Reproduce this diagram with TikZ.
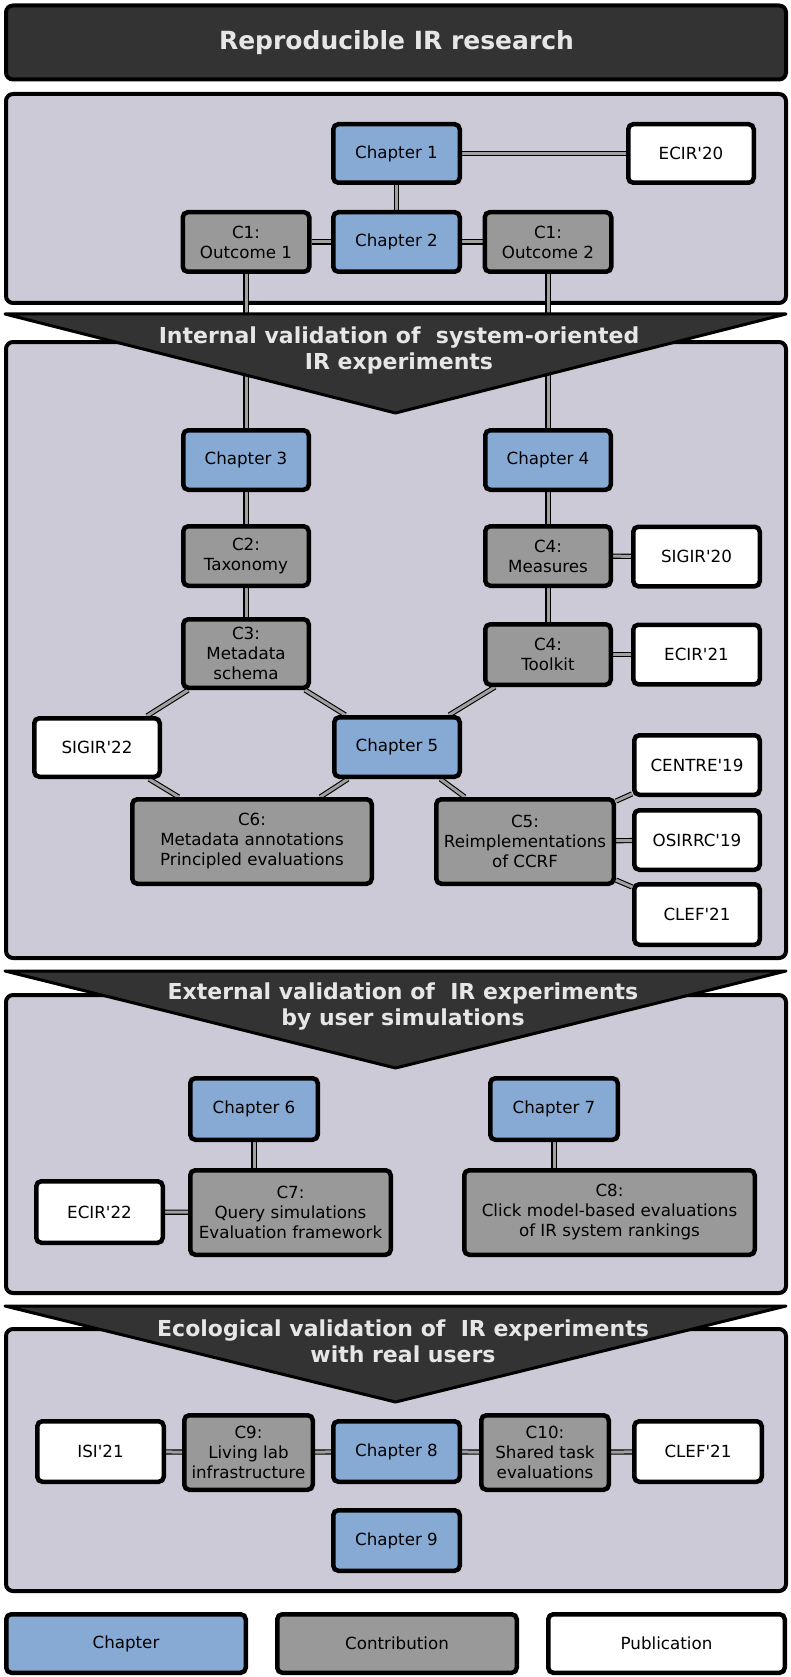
\documentclass[tikz,border=0pt]{standalone}
\usepackage{fontspec}
\setmainfont{DejaVu Sans}[Ligatures=TeXOff]
\usetikzlibrary{calc}

\definecolor{panelfill}{HTML}{CCCAD6}
\definecolor{chapfill}{HTML}{87AAD4}
\definecolor{contribfill}{HTML}{999999}
\definecolor{darkbar}{HTML}{333333}
\definecolor{bartext}{HTML}{E6E6E6}
\definecolor{linkgrey}{HTML}{A0A0A0}

\pgfdeclarelayer{panels}
\pgfdeclarelayer{links}
\pgfdeclarelayer{banners}
\pgfsetlayers{panels,links,banners,main}

\tikzset{
  box/.style={draw=black, line width=4.5pt, rounded corners=5pt, align=center,
    inner sep=0pt, text=black, font=\fontsize{16.7}{20}\selectfont},
  dims/.style 2 args={minimum width=#1pt-4.5pt, minimum height=#2pt-4.5pt},
  chapter/.style={box, fill=chapfill},
  contrib/.style={box, fill=contribfill},
  pub/.style={box, fill=white},
  link/.style={draw=black, line width=1.1pt, double=linkgrey, double distance=3pt},
  panel/.style={draw=black, line width=4pt, fill=panelfill, rounded corners=7pt},
  banner/.style={draw=black, line width=3pt, fill=darkbar, line join=round},
  bannertext/.style={text=bartext, align=center, inner sep=0pt,
    font=\bfseries\fontsize{22}{26}\selectfont},
}

\begin{document}
\begin{tikzpicture}[x=1pt, y=-1pt]
\useasboundingbox (0,0) rectangle (790,1677);

% ---------- title bar ----------
\node[draw=black, line width=4pt, fill=darkbar, rounded corners=7pt,
      minimum width=780pt, minimum height=74pt] (title) at (396,42.5) {};
\node[text=bartext, font=\bfseries\fontsize{25}{30}\selectfont] (titletext) at (396.5,43) {Reproducible IR research};

% ---------- section 1 ----------
\node[chapter, dims={131}{63}] (ch1) at (396.5,153.5) {Chapter 1};
\node[pub, dims={130}{63}] (ecir20) at (691,153.5) {ECIR'20};
\node[chapter, dims={131}{64}] (ch2) at (396.5,242) {Chapter 2};
\node[contrib, dims={131}{64}] (out1) at (246,242) {C1:\\Outcome 1};
\node[contrib, dims={131}{64}] (out2) at (548,242) {C1:\\Outcome 2};

% ---------- section 2 ----------
\node[chapter, dims={130}{64}] (ch3) at (246,460) {Chapter 3};
\node[chapter, dims={130}{64}] (ch4) at (548,460) {Chapter 4};
\node[contrib, dims={130}{64}] (c2) at (246,556) {C2:\\Taxonomy};
\node[contrib, dims={130}{64}] (c4m) at (548,556) {C4:\\Measures};
\node[pub, dims={131}{64}] (sigir20) at (696.5,556.5) {SIGIR'20};
\node[contrib, dims={130}{73}] (c3) at (246,653.5) {C3:\\Metadata\\schema};
\node[contrib, dims={130}{65}] (c4t) at (548,654.5) {C4:\\Toolkit};
\node[pub, dims={131}{64}] (ecir21) at (696.5,654.5) {ECIR'21};
\node[pub, dims={130}{63}] (sigir22) at (97,747.5) {SIGIR'22};
\node[chapter, dims={130}{64}] (ch5) at (397,747) {Chapter 5};
\node[contrib, dims={244}{89}] (c6) at (252,841.5) {C6:\\Metadata annotations\\Principled evaluations};
\node[contrib, dims={182}{89}] (c5) at (525,841.5) {C5:\\Reimplementations\\of CCRF};
\node[pub, dims={130}{64}] (centre19) at (697,765) {CENTRE'19};
\node[pub, dims={130}{64}] (osirrc19) at (697,840) {OSIRRC'19};
\node[pub, dims={130}{65}] (clef21a) at (697,914.5) {CLEF'21};

% ---------- section 3 ----------
\node[chapter, dims={132}{66}] (ch6) at (254,1109) {Chapter 6};
\node[chapter, dims={132}{66}] (ch7) at (554,1109) {Chapter 7};
\node[pub, dims={131}{66}] (ecir22) at (99.5,1212) {ECIR'22};
\node[contrib, dims={205}{89}] (c7) at (290.5,1212.5) {C7:\\Query simulations\\Evaluation framework};
\node[contrib, dims={295}{89}] (c8) at (609.5,1212.5) {C8:\\Click model-based evaluations\\of IR system rankings};

% ---------- section 4 ----------
\node[pub, dims={131}{65}] (isi21) at (100.5,1451.5) {ISI'21};
\node[contrib, dims={133}{79}] (c9) at (248.5,1452.5) {C9:\\Living lab\\infrastructure};
\node[chapter, dims={131}{65}] (ch8) at (396.5,1451.5) {Chapter 8};
\node[contrib, dims={132}{79}] (c10) at (545,1452.5) {C10:\\Shared task\\evaluations};
\node[pub, dims={132}{65}] (clef21b) at (698,1451.5) {CLEF'21};
\node[chapter, dims={131}{65}] (ch9) at (396.5,1540.5) {Chapter 9};

% ---------- legend ----------
\node[chapter, dims={244}{63}] (legchap) at (126,1643.5) {Chapter};
\node[contrib, dims={244}{63}] (legcontrib) at (397,1643.5) {Contribution};
\node[pub, dims={241}{63}] (legpub) at (666.5,1643.5) {Publication};

% ---------- section panels ----------
\begin{pgfonlayer}{panels}
  \draw[panel] (6,94) rectangle (786,303);
  \draw[panel] (6,342) rectangle (786,958);
  \draw[panel] (6,995) rectangle (786,1293);
  \draw[panel] (6,1329) rectangle (786,1591);
\end{pgfonlayer}

% ---------- connectors ----------
\begin{pgfonlayer}{links}
  \draw[link] (ch1) -- (ecir20);
  \draw[link] (ch1) -- (ch2);
  \draw[link] (out1) -- (ch2);
  \draw[link] (ch2) -- (out2);
  \draw[link] (out1) -- (ch3);
  \draw[link] (out2) -- (ch4);
  \draw[link] (ch3) -- (c2);
  \draw[link] (c2) -- (c3);
  \draw[link] (c3) -- (sigir22);
  \draw[link] (c3) -- (ch5);
  \draw[link] (sigir22) -- (c6);
  \draw[link] (ch5) -- (c6);
  \draw[link] (c4t) -- (ch5);
  \draw[link] (ch5) -- (c5);
  \draw[link] (ch4) -- (c4m);
  \draw[link] (c4m) -- (c4t);
  \draw[link] (c4m) -- (sigir20);
  \draw[link] (c4t) -- (ecir21);
  \draw[link] (c5) -- (centre19);
  \draw[link] (c5) -- (osirrc19);
  \draw[link] (c5) -- (clef21a);
  \draw[link] (ch6) -- (ch6 |- c7.north);
  \draw[link] (ch7) -- (ch7 |- c8.north);
  \draw[link] (ecir22) -- (c7);
  \draw[link] (isi21) -- (c9);
  \draw[link] (c9) -- (ch8);
  \draw[link] (ch8) -- (c10);
  \draw[link] (c10) -- (clef21b);
\end{pgfonlayer}

% ---------- section banners ----------
\begin{pgfonlayer}{banners}
  \draw[banner] (5,314) -- (786,314) -- (395.5,413) -- cycle;
  \node[bannertext] (banner1) at (399,350)
    {Internal validation of~~system-oriented\\IR experiments};
  \draw[banner] (5,971) -- (786,971) -- (395.5,1068) -- cycle;
  \node[bannertext] (banner2) at (403,1007)
    {External validation of~~IR experiments\\by user simulations};
  \draw[banner] (5,1306) -- (786,1306) -- (395.5,1402) -- cycle;
  \node[bannertext] (banner3) at (403,1341)
    {Ecological validation of~~IR experiments\\with real users};
\end{pgfonlayer}
\end{tikzpicture}
\end{document}
